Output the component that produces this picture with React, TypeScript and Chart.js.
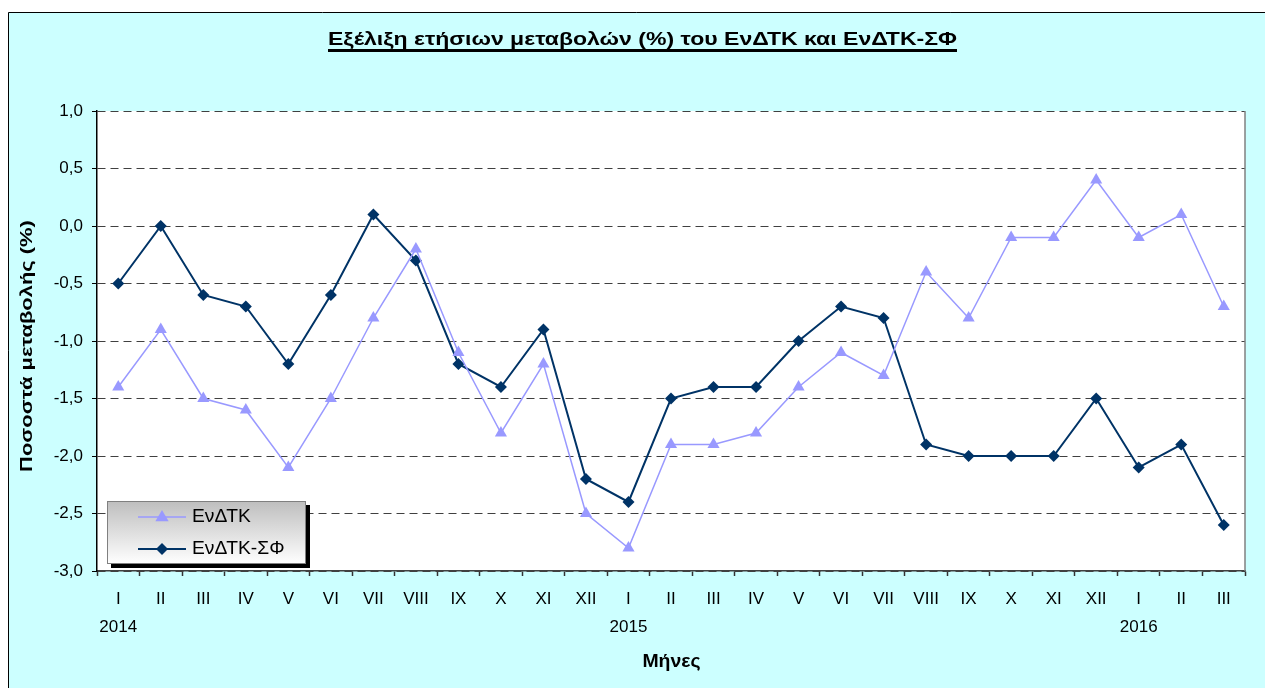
import React, { useEffect, useRef } from "react";
import { Chart, registerables } from "chart.js";

Chart.register(...registerables);

const MONTHS = [
  "I", "II", "III", "IV", "V", "VI", "VII", "VIII", "IX", "X", "XI", "XII",
  "I", "II", "III", "IV", "V", "VI", "VII", "VIII", "IX", "X", "XI", "XII",
  "I", "II", "III",
];
const YEARS = ["2014", "2015", "2016"];
const YEAR_START = [0, 12, 24];

const ENDTK = [
  -1.4, -0.9, -1.5, -1.6, -2.1, -1.5, -0.8, -0.2, -1.1, -1.8, -1.2, -2.5,
  -2.8, -1.9, -1.9, -1.8, -1.4, -1.1, -1.3, -0.4, -0.8, -0.1, -0.1, 0.4,
  -0.1, 0.1, -0.7,
];
const ENDTK_SF = [
  -0.5, 0.0, -0.6, -0.7, -1.2, -0.6, 0.1, -0.3, -1.2, -1.4, -0.9, -2.2,
  -2.4, -1.5, -1.4, -1.4, -1.0, -0.7, -0.8, -1.9, -2.0, -2.0, -2.0, -1.5,
  -2.1, -1.9, -2.6,
];

const TITLE = "Εξέλιξη ετήσιων μεταβολών (%) του ΕνΔΤΚ και ΕνΔΤΚ-ΣΦ";
const Y_TITLE = "Ποσοστά μεταβολής (%)";
const X_TITLE = "Μήνες";
const SERIES_NAMES = ["ΕνΔΤΚ", "ΕνΔΤΚ-ΣΦ"];

const FONT = "'Liberation Sans', Arial, sans-serif";
const LIGHT = "#9999FF";
const DARK = "#003366";

function drawMarker(ctx: CanvasRenderingContext2D, style: string, x: number, y: number, r: number, color: string) {
  ctx.save();
  ctx.fillStyle = color;
  ctx.beginPath();
  if (style === "triangle") {
    ctx.moveTo(x, y - r);
    ctx.lineTo(x + r * 0.95, y + r * 0.6);
    ctx.lineTo(x - r * 0.95, y + r * 0.6);
  } else {
    ctx.moveTo(x, y - r);
    ctx.lineTo(x + r, y);
    ctx.lineTo(x, y + r);
    ctx.lineTo(x - r, y);
  }
  ctx.closePath();
  ctx.fill();
  ctx.restore();
}

function scaledText(ctx: CanvasRenderingContext2D, text: string, x: number, y: number, sx: number, rot = 0) {
  ctx.save();
  ctx.translate(x, y);
  if (rot) ctx.rotate(rot);
  ctx.scale(sx, 1);
  ctx.fillText(text, 0, 0);
  ctx.restore();
}

const decorPlugin = {
  id: "decor",
  beforeDraw(chart: any) {
    const { ctx, chartArea } = chart;
    ctx.save();
    ctx.fillStyle = "#CCFFFF";
    ctx.fillRect(8, 12, chart.width - 8, chart.height - 12);
    ctx.strokeStyle = "#000";
    ctx.lineWidth = 1;
    ctx.beginPath();
    ctx.moveTo(8.5, chart.height);
    ctx.lineTo(8.5, 12.5);
    ctx.lineTo(chart.width, 12.5);
    ctx.stroke();
    ctx.fillStyle = "#FFFFFF";
    ctx.fillRect(chartArea.left, chartArea.top, chartArea.right - chartArea.left, chartArea.bottom - chartArea.top);
    ctx.restore();
  },
  afterDraw(chart: any) {
    const { ctx, chartArea } = chart;
    ctx.save();
    // right border of plot area
    ctx.strokeStyle = "#808080";
    ctx.lineWidth = 1.5;
    ctx.beginPath();
    ctx.moveTo(chartArea.right, chartArea.top);
    ctx.lineTo(chartArea.right, chartArea.bottom);
    ctx.stroke();

    // title
    ctx.fillStyle = "#000";
    ctx.font = "bold 18px " + FONT;
    ctx.textAlign = "center";
    ctx.textBaseline = "alphabetic";
    const tx = 642.5;
    const tsx = 1.28;
    scaledText(ctx, TITLE, tx, 44.5, tsx);
    const tw = ctx.measureText(TITLE).width * tsx;
    ctx.fillRect(tx - tw / 2, 49, tw, 3);

    // x title
    ctx.font = "bold 18px " + FONT;
    scaledText(ctx, X_TITLE, 671.5, 667, 1.08);

    // y title
    ctx.font = "bold 17px " + FONT;
    scaledText(ctx, Y_TITLE, 32, 346, 1.29, -Math.PI / 2);

    // legend
    const lx = 107, ly = 501, lw = 199, lh = 63;
    ctx.fillStyle = "#000";
    ctx.fillRect(lx + 4, ly + 4, lw, lh);
    const g = ctx.createLinearGradient(0, ly, 0, ly + lh);
    g.addColorStop(0, "#BEBEBE");
    g.addColorStop(1, "#FFFFFF");
    ctx.fillStyle = g;
    ctx.fillRect(lx, ly, lw, lh);
    ctx.strokeStyle = "#808080";
    ctx.lineWidth = 1;
    ctx.strokeRect(lx + 0.5, ly + 0.5, lw - 1, lh - 1);

    const items = [
      { name: SERIES_NAMES[0], color: LIGHT, style: "triangle", y: 517, r: 7, w: 1.5 },
      { name: SERIES_NAMES[1], color: DARK, style: "rectRot", y: 549, r: 6, w: 2 },
    ];
    items.forEach((it) => {
      ctx.strokeStyle = it.color;
      ctx.lineWidth = it.w;
      ctx.beginPath();
      ctx.moveTo(138, it.y);
      ctx.lineTo(186, it.y);
      ctx.stroke();
      drawMarker(ctx, it.style, 162, it.y, it.r, it.color);
      ctx.fillStyle = "#000";
      ctx.font = "18px " + FONT;
      ctx.textAlign = "left";
      ctx.textBaseline = "middle";
      scaledText(ctx, it.name, 192, it.y, 1.07);
    });
    ctx.restore();
  },
};

export default function App() {
  const ref = useRef<HTMLCanvasElement>(null);

  useEffect(() => {
    if (!ref.current) return;
    const labels = MONTHS.map((m, i) => {
      const yi = YEAR_START.indexOf(i);
      return yi >= 0 ? [m, YEARS[yi]] : m;
    });
    const chart = new Chart(ref.current, {
      type: "line",
      data: {
        labels,
        datasets: [
          {
            label: SERIES_NAMES[0],
            data: ENDTK,
            borderColor: LIGHT,
            backgroundColor: LIGHT,
            borderWidth: 1.5,
            pointStyle: "triangle",
            pointRadius: 7,
            pointBorderWidth: 0,
            tension: 0,
          },
          {
            label: SERIES_NAMES[1],
            data: ENDTK_SF,
            borderColor: DARK,
            backgroundColor: DARK,
            borderWidth: 2,
            pointStyle: "rectRot",
            pointRadius: 6,
            pointBorderWidth: 0,
            tension: 0,
          },
        ],
      },
      options: {
        responsive: false,
        animation: false,
        layout: { padding: { left: 8, top: 111, right: 20, bottom: 0 } },
        plugins: {
          legend: { display: false },
          tooltip: { enabled: false },
          title: { display: false },
        },
        scales: {
          x: {
            type: "category",
            offset: true,
            afterFit: (s: any) => {
              s.height = 117;
            },
            grid: {
              offset: true,
              drawOnChartArea: false,
              drawTicks: true,
              tickLength: 5,
              tickColor: "#333",
              tickWidth: 1.5,
            },
            border: { color: "#404040", width: 1.5 },
            ticks: {
              color: "#000",
              font: { family: FONT, size: 17, lineHeight: 1.65 },
              padding: 9,
              maxRotation: 0,
              autoSkip: false,
            },
          },
          y: {
            min: -3,
            max: 1,
            afterFit: (s: any) => {
              s.width = 89;
            },
            grid: {
              color: "#404040",
              lineWidth: 1,
              drawTicks: true,
              tickLength: 5,
              tickColor: "#000",
              tickBorderDash: [],
            },
            border: { color: "#000", width: 1.5, dash: [8, 5] },
            ticks: {
              stepSize: 0.5,
              color: "#000",
              padding: 9,
              font: { family: FONT, size: 17 },
              callback: (v: any) => Number(v).toFixed(1).replace(".", ","),
            },
          },
        },
      },
      plugins: [decorPlugin],
    });
    return () => chart.destroy();
  }, []);

  return (
    <div style={{ position: "absolute", left: 0, top: 0, width: 1265, height: 688 }}>
      <canvas ref={ref} width={1265} height={688} style={{ display: "block" }} />
    </div>
  );
}
